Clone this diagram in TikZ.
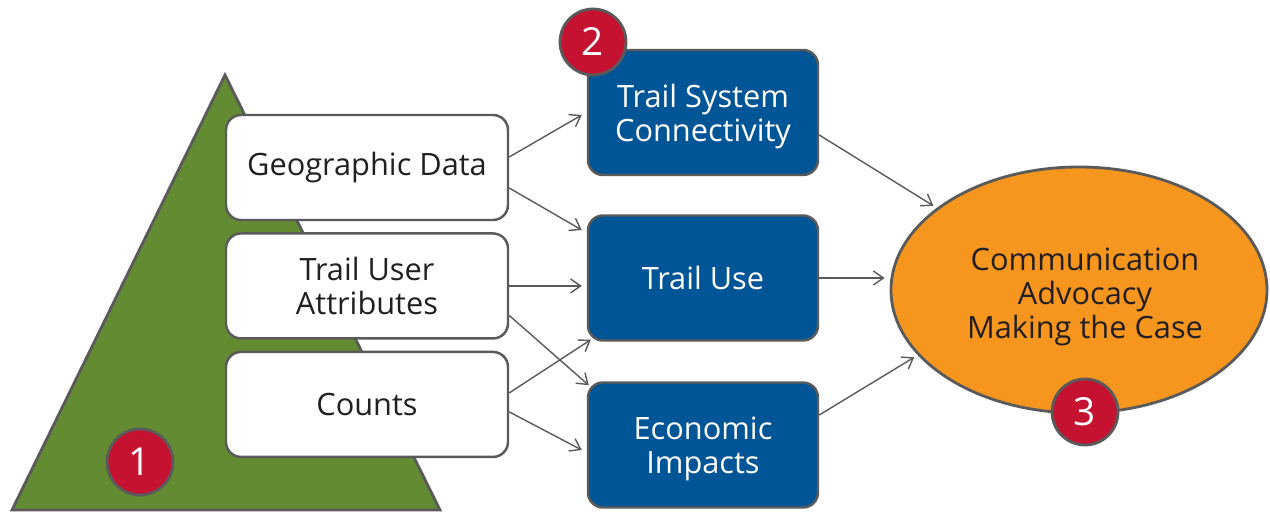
\documentclass[tikz,border=0pt]{standalone}
\usepackage{fontspec}
\setmainfont{Open Sans}
\usepackage{xcolor}
\usetikzlibrary{shapes,arrows.meta,positioning,calc}

\definecolor{hillgreen}{HTML}{638B32}
\definecolor{boxblue}{HTML}{005596}
\definecolor{caseorange}{HTML}{F7961E}
\definecolor{dotred}{HTML}{C41230}
\definecolor{edgegray}{HTML}{5A5A5A}
\definecolor{inkdark}{HTML}{231F20}

\tikzset{
    databox/.style={draw=edgegray, line width=1.4pt, fill=white, rounded corners=0.3cm,
        minimum width=5.64cm, minimum height=2.1cm, align=center, text=inkdark},
    resultbox/.style={draw=edgegray, line width=1.4pt, fill=boxblue, rounded corners=0.3cm,
        minimum width=4.6cm, minimum height=2.5cm, align=center, text=white, text depth=0pt},
    numdot/.style={circle, draw=edgegray, line width=1.6pt, fill=dotred, minimum size=1.32cm,
        inner sep=0pt, text=white, font=\fontsize{22}{24}\selectfont},
    link/.style={->, draw=edgegray, line width=0.8pt},
    >={Straight Barb[length=2mm,width=2.8mm]}
}

\begin{document}
\begin{tikzpicture}[font=\fontsize{17.5}{19.5}\selectfont]
    \useasboundingbox (0,0) rectangle (25.4,10.24);

    \draw[draw=edgegray, line width=1.6pt, fill=hillgreen] (0.24,0.04) -- (4.5,8.74) -- (8.8,0.04) -- cycle;

    \node[databox] (geo) at (7.34,6.89) {Geographic Data};
    \node[databox, below=0.22cm of geo] (tua) {Trail User\\Attributes};
    \node[databox, below=0.22cm of tua] (counts) {Counts};

    \node[resultbox] (tsc) at (14.06,7.99) {Trail System\\Connectivity};
    \node[resultbox] (tu) at (14.06,4.68) {Trail Use};
    \node[resultbox] (ei) at (14.06,1.34) {Economic\\Impacts};

    \node[ellipse, draw=edgegray, line width=1.6pt, fill=caseorange, minimum width=7.52cm,
        minimum height=4.92cm, inner sep=0pt] (case) at (21.58,4.44) {};
    \node[align=center, text=inkdark] (casetext) at (21.7,4.3) {Communication\\Advocacy\\Making the Case};

    \node[numdot] (n1) at (2.8,1.0) {1};
    \node[numdot] (n2) at (11.86,9.4) {2};
    \node[numdot] (n3) at (21.7,2.0) {3};

    \draw[link] ([yshift=0.21cm]geo.east) -- ([xshift=-0.1cm,yshift=-0.05cm]tsc.west);
    \draw[link] ([yshift=-0.41cm]geo.east) -- ([xshift=-0.1cm,yshift=0.96cm]tu.west);
    \draw[link] (tua.east) -- ([xshift=-0.1cm]tua.east -| tu.west);
    \draw[link] ([yshift=-0.59cm]tua.east) -- ([xshift=0.04cm,yshift=-0.08cm]ei.north west);
    \draw[link] ([yshift=0.23cm]counts.east) -- ([xshift=0.08cm,yshift=0.04cm]tu.south west);
    \draw[link] ([yshift=-0.15cm]counts.east) -- ([xshift=-0.1cm,yshift=-0.1cm]ei.west);

    \draw[link, shorten >=0.08cm] ([yshift=-0.45cm]tsc.east) -- (case.150);
    \draw[link] (tu.east) -- ([xshift=-0.1cm]tu.east -| case.west);
    \draw[link, shorten >=0.08cm] ([yshift=0.6cm]ei.east) -- (case.202);
\end{tikzpicture}
\end{document}
